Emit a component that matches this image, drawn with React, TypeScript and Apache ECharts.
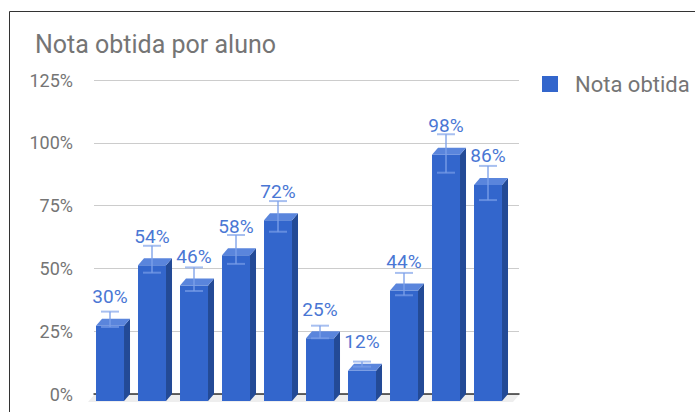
import React, { useEffect, useRef } from 'react';
import * as echarts from 'echarts';

const students = ['Aluno 1', 'Aluno 2', 'Aluno 3', 'Aluno 4', 'Aluno 5', 'Aluno 6', 'Aluno 7', 'Aluno 8', 'Aluno 9', 'Aluno 10'];
const scores = [30, 54, 46, 58, 72, 25, 12, 44, 98, 86];
const errLow = [26.7, 48.3, 41.0, 51.8, 64.6, 22.2, 10.9, 39.3, 88.1, 77.2];
const errHigh = [32.8, 59.0, 50.4, 63.3, 76.8, 27.2, 12.9, 48.2, 103.4, 90.8];
const yMin = 0;
const yMax = 125;
const yStep = 25;
const seriesName = 'Nota obtida';
const titleText = 'Nota obtida por aluno';

const FONT = 'Roboto, "Noto Sans", sans-serif';
const DX = 6;
const DY = 7;
const HALF = 14;

export default function App() {
  const ref = useRef<HTMLDivElement>(null);
  useEffect(() => {
    if (!ref.current) return;
    const chart = echarts.init(ref.current, undefined, { renderer: 'svg' });
    const data = scores.map((v, i) => ({ name: students[i], value: [i, v, errLow[i], errHigh[i]] }));
    const option: any = {
      animation: false,
      backgroundColor: '#ffffff',
      title: {
        text: titleText,
        left: 30,
        top: 27,
        textStyle: { fontSize: 25, fontWeight: 'normal', color: '#757575', fontFamily: FONT },
      },
      legend: {
        data: [seriesName],
        left: 542,
        top: 73,
        padding: 0,
        itemWidth: 16,
        itemHeight: 16,
        icon: 'rect',
        textStyle: { fontSize: 22, color: '#757575', fontFamily: FONT, padding: [0, 0, 0, 12] },
      },
      graphic: [
        {
          type: 'rect',
          x: 9.5,
          y: 11.5,
          shape: { x: 0, y: 0, width: 700, height: 420 },
          style: { fill: 'none', stroke: '#333333', lineWidth: 1 },
          silent: true,
        },
      ],
      grid: { left: 94, right: 176, top: 80, bottom: 18, containLabel: false },
      xAxis: {
        type: 'value',
        min: -0.524,
        max: 9.595,
        axisLine: { show: true, onZero: false, lineStyle: { color: '#333333', width: 1.5 } },
        axisTick: { show: false },
        axisLabel: { show: false },
        splitLine: { show: false },
      },
      yAxis: {
        type: 'value',
        min: yMin,
        max: yMax,
        interval: yStep,
        axisLine: { show: false },
        axisTick: { show: false },
        axisLabel: { formatter: '{value}%', fontSize: 18, color: '#757575', fontFamily: FONT, margin: 21 },
        splitLine: { lineStyle: { color: '#cccccc', width: 1 } },
      },
      series: [
        {
          type: 'custom',
          name: 'floor',
          z: 1,
          silent: true,
          data: [[0, 0]],
          renderItem: (params: any) => {
            const cs = params.coordSys;
            const b = cs.y + cs.height + 1;
            return {
              type: 'polygon',
              shape: {
                points: [
                  [cs.x, b],
                  [cs.x + cs.width, b],
                  [cs.x + cs.width - DX, b + DY],
                  [cs.x - DX, b + DY],
                ],
              },
              style: { fill: '#eeeeee' },
            };
          },
        },
        {
          type: 'custom',
          name: seriesName,
          z: 3,
          itemStyle: { color: '#3366cc' },
          encode: { x: 0, y: 1 },
          data,
          renderItem: (params: any, api: any) => {
            const i = api.value(0);
            const v = api.value(1);
            const [bx, by] = api.coord([i, v]);
            const y0 = api.coord([i, 0])[1];
            const yLo = api.coord([i, api.value(2)])[1];
            const yHi = api.coord([i, api.value(3)])[1];
            const fl = bx - HALF - DX;
            const fr = bx + HALF - DX;
            const ft = by + DY;
            const fb = y0 + DY;
            const ex = (fl + fr) / 2;
            const errColor = 'rgba(124,160,232,0.67)';
            return {
              type: 'group',
              children: [
                {
                  type: 'rect',
                  shape: { x: fl, y: ft, width: fr - fl, height: fb - ft },
                  style: { fill: '#3366cc' },
                },
                {
                  type: 'polygon',
                  shape: { points: [[fr, ft], [fr + DX, by], [fr + DX, y0], [fr, fb]] },
                  style: { fill: '#234a96' },
                },
                {
                  type: 'polygon',
                  shape: { points: [[fl, ft], [fl + DX, by], [fr + DX, by], [fr, ft]] },
                  style: { fill: '#5a85dc' },
                },
                {
                  type: 'line',
                  shape: { x1: ex, y1: yHi, x2: ex, y2: yLo },
                  style: { stroke: errColor, lineWidth: 2 },
                },
                {
                  type: 'line',
                  shape: { x1: ex - 9, y1: yHi, x2: ex + 9, y2: yHi },
                  style: { stroke: errColor, lineWidth: 2 },
                },
                {
                  type: 'line',
                  shape: { x1: ex - 9, y1: yLo, x2: ex + 9, y2: yLo },
                  style: { stroke: errColor, lineWidth: 2 },
                },
                {
                  type: 'text',
                  x: ex,
                  y: ft - 29,
                  style: {
                    text: v + '%',
                    fill: '#4a77d4',
                    fontSize: 19,
                    fontFamily: FONT,
                    align: 'center',
                    verticalAlign: 'middle',
                  },
                },
              ],
            };
          },
        },
      ],
    };
    chart.setOption(option);
    return () => chart.dispose();
  }, []);
  return <div ref={ref} style={{ position: 'absolute', left: 0, top: 0, width: 695, height: 412 }} />;
}
